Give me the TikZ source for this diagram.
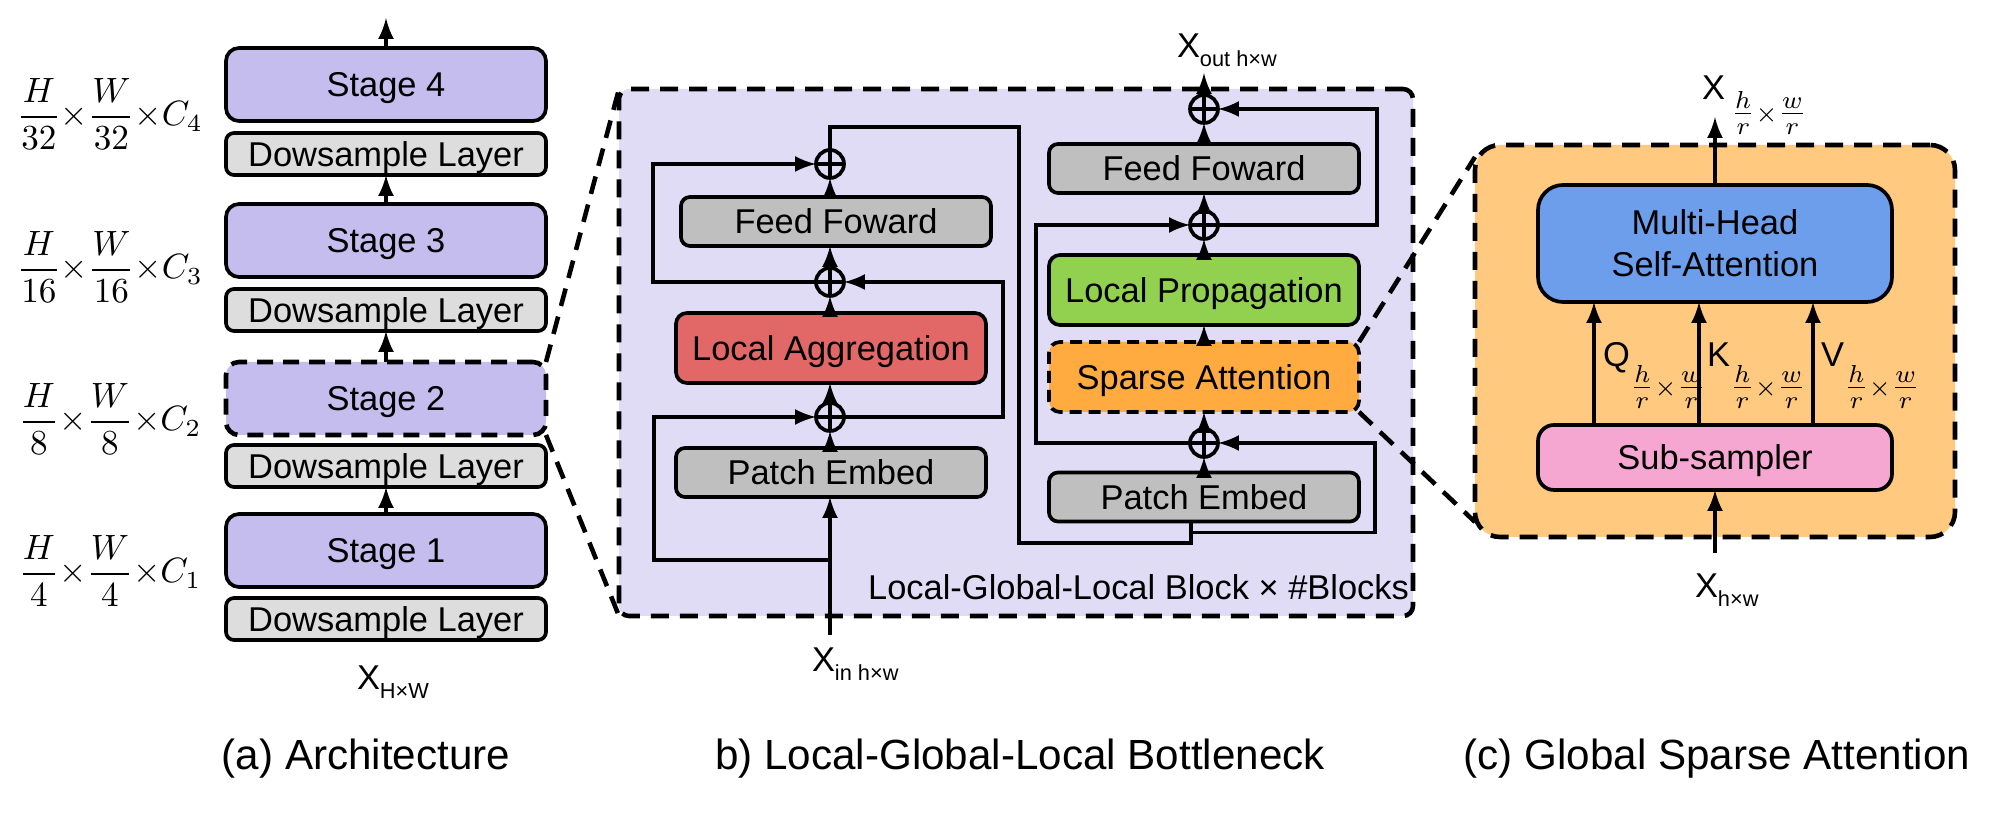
\documentclass[tikz,border=0pt]{standalone}
\usepackage{amsmath}
\usepackage{fontspec}
\setmainfont{Liberation Sans}
\usetikzlibrary{arrows,positioning,calc}

\definecolor{stageFill}{RGB}{197,189,238}
\definecolor{dsFill}{RGB}{221,221,221}
\definecolor{lglFill}{RGB}{224,220,245}
\definecolor{ffFill}{RGB}{191,191,191}
\definecolor{aggFill}{RGB}{226,104,104}
\definecolor{propFill}{RGB}{146,208,80}
\definecolor{sparseFill}{RGB}{255,171,64}
\definecolor{gsaFill}{RGB}{255,201,127}
\definecolor{mhsaFill}{RGB}{109,158,235}
\definecolor{subFill}{RGB}{245,166,209}

\newcommand{\boxfont}{\fontsize{9.8}{11.9}\selectfont}
\newcommand{\labelfont}{\fontsize{9.8}{11.8}\selectfont}
\newcommand{\capfont}{\fontsize{12}{14.4}\selectfont}
\newcommand{\lowsub}[1]{\raisebox{-0.9mm}{\fontsize{6.2}{7.4}\selectfont #1}}
\newcommand{\subfrac}{$\frac{h}{r}{\scriptstyle\times}\frac{w}{r}$}

\begin{document}
\begin{tikzpicture}[x=0.1mm, y=-0.1mm,
    every node/.style={inner sep=0pt, outer sep=0pt},
    block/.style={draw, line width=1.05pt, font=\boxfont, text height=7pt, text depth=0pt},
    stageBlock/.style={block, fill=stageFill, rounded corners=1.3mm, minimum width=32mm, minimum height=7.3mm},
    dsBlock/.style={block, fill=dsFill, rounded corners=0.8mm, minimum width=32mm, minimum height=4.2mm},
    grayBlock/.style={block, fill=ffFill, rounded corners=0.9mm, minimum width=31mm, minimum height=4.9mm},
    wideBlock/.style={block, rounded corners=1.1mm, minimum width=31mm, minimum height=7mm},
    zoomBox/.style={draw, line width=1.3pt, dash pattern=on 1.8mm off 1.1mm},
    sumNode/.style={draw, circle, line width=1.05pt, minimum size=2.8mm,
        path picture={\draw[line width=1.05pt]
            (path picture bounding box.north) -- (path picture bounding box.south)
            (path picture bounding box.west) -- (path picture bounding box.east);}},
    wire/.style={line width=1.05pt},
    arr/.style={wire, -latex},
    xLabel/.style={font=\labelfont, anchor=base west},
    capText/.style={font=\capfont, anchor=base},
    sizeText/.style={font=\fontsize{10}{12}\selectfont}
  ]
  \useasboundingbox (0,0) rectangle (2000,820);

  % (a) architecture
  \node[dsBlock] (ds1) at (386,619) {Dowsample Layer};
  \node[stageBlock, above=1.1mm of ds1] (st1) {Stage 1};
  \node[dsBlock, above=2.7mm of st1] (ds2) {Dowsample Layer};
  \node[stageBlock, above=1.0mm of ds2, line width=1.3pt, dash pattern=on 1.6mm off 1mm] (st2) {Stage 2};
  \node[dsBlock, above=3.1mm of st2] (ds3) {Dowsample Layer};
  \node[stageBlock, above=1.2mm of ds3] (st3) {Stage 3};
  \node[dsBlock, above=2.9mm of st3] (ds4) {Dowsample Layer};
  \node[stageBlock, above=1.2mm of ds4] (st4) {Stage 4};
  \coordinate (archOut) at ($(st4.north)+(0,-30)$);

  \draw[arr] (st1) -- (ds2);
  \draw[arr] (st2) -- (ds3);
  \draw[arr] (st3) -- (ds4);
  \draw[arr] (st4) -- (archOut);

  \node[sizeText] (sz1) at (110,571) {$\dfrac{H}{4}{\times}\dfrac{W}{4}{\times}C_1$};
  \node[sizeText] (sz2) at (110,419) {$\dfrac{H}{8}{\times}\dfrac{W}{8}{\times}C_2$};
  \node[sizeText] (sz3) at (110,267) {$\dfrac{H}{16}{\times}\dfrac{W}{16}{\times}C_3$};
  \node[sizeText] (sz4) at (110,114) {$\dfrac{H}{32}{\times}\dfrac{W}{32}{\times}C_4$};

  \node[xLabel] (xHW) at (357,690) {X\lowsub{H×W}};
  \node[capText] (capA) at (366,770) {(a) Architecture};

  % (b) local-global-local bottleneck
  \node[zoomBox, fill=lglFill, rounded corners=1mm, minimum width=79.4mm, minimum height=52.7mm] (lgl) at (1016,352.5) {};
  \node[grayBlock] (peL) at (831,472.5) {Patch Embed};
  \node[wideBlock, fill=aggFill] (aggL) at (831,348) {Local Aggregation};
  \node[grayBlock] (ffL) at (836,221.5) {Feed Foward};
  \node[sumNode] (pL1) at (830,417) {};
  \node[sumNode] (pL2) at (830,282) {};
  \node[sumNode] (pL3) at (830,164) {};

  \node[grayBlock] (peR) at (1204,497) {Patch Embed};
  \node[wideBlock, fill=sparseFill, dash pattern=on 1.2mm off 0.7mm] (saR) at (1204,377) {Sparse Attention};
  \node[wideBlock, fill=propFill] (lpR) at (1204,290) {Local Propagation};
  \node[grayBlock] (ffR) at (1204,168.5) {Feed Foward};
  \node[sumNode] (pR1) at (1204,443) {};
  \node[sumNode] (pR2) at (1204,225) {};
  \node[sumNode] (pR3) at (1204,109) {};

  \coordinate (xinTail) at (830,635);
  \coordinate (xinSplit) at (830,560);
  \draw[arr] (xinTail) -- (peL.south -| xinTail);
  \draw[arr] (xinSplit) -- ++(-176,0) |- (pL1);
  \draw[arr] (pL1 |- peL.north) -- (pL1);
  \draw[arr] (pL1) -- (pL1 |- aggL.south);
  \draw[arr] (pL1) -- ++(173,0) |- (pL2);
  \draw[arr] (pL2 |- aggL.north) -- (pL2);
  \draw[arr] (pL2) -- (pL2 |- ffL.south);
  \draw[arr] (pL2) -- ++(-177,0) |- (pL3);
  \draw[arr] (pL3 |- ffL.north) -- (pL3);

  \coordinate (peRin) at ($(peR.south)+(-13,0)$);
  \draw[wire] (pL3) |- ++(189,-37) -- ++(0,416) -| (peRin);
  \draw[arr] ($(peRin)+(0,11)$) -- ++(184,0) |- (pR1);
  \draw[arr] (peR) -- (pR1);
  \draw[arr] (pR1) -- (saR);
  \draw[arr] (pR1) -- ++(-168,0) |- (pR2);
  \draw[arr] (saR) -- (lpR);
  \draw[arr] (lpR) -- (pR2);
  \draw[arr] (pR2) -- (ffR);
  \draw[arr] (pR2) -- ++(173,0) |- (pR3);
  \draw[arr] (ffR) -- (pR3);
  \coordinate (xoutTip) at (1204,73);
  \draw[arr] (pR3) -- (xoutTip);

  \node[xLabel] (xin) at (812,672) {X\lowsub{in h×w}};
  \node[xLabel] (xout) at (1177,58) {X\lowsub{out h×w}};
  \node[font=\boxfont, anchor=base east] (lglNote) at (1409,600) {Local-Global-Local Block × \#Blocks};
  \node[capText] (capB) at (1020,770) {b) Local-Global-Local Bottleneck};

  % (c) global sparse attention
  \node[zoomBox, fill=gsaFill, rounded corners=2.5mm, minimum width=48mm, minimum height=39.2mm] (gsa) at (1715,341) {};
  \node[draw, line width=1.05pt, fill=mhsaFill, rounded corners=2.5mm, minimum width=35.4mm,
        minimum height=11.7mm, font=\boxfont, align=center] (mhsa) at (1715,243.5) {Multi-Head\\Self-Attention};
  \node[block, fill=subFill, rounded corners=1.6mm, minimum width=35.4mm, minimum height=6.5mm] (sub) at (1715,457.5) {Sub-sampler};

  \coordinate (qLine) at (1594,0);
  \coordinate (kLine) at (1699,0);
  \coordinate (vLine) at (1813,0);
  \draw[arr] (sub.north -| qLine) -- (mhsa.south -| qLine);
  \draw[arr] (sub.north -| kLine) -- (mhsa.south -| kLine);
  \draw[arr] (sub.north -| vLine) -- (mhsa.south -| vLine);
  \node[xLabel] (qLab) at (1603,367) {Q\raisebox{-2.9mm}{\subfrac}};
  \node[xLabel] (kLab) at (1707,367) {K\raisebox{-2.9mm}{\subfrac}};
  \node[xLabel] (vLab) at (1821,367) {V\raisebox{-2.9mm}{\subfrac}};

  \coordinate (xtopTip) at (1715,117);
  \coordinate (xbotTail) at (1715,553);
  \draw[arr] (mhsa) -- (xtopTip);
  \draw[arr] (xbotTail) -- (sub);
  \node[xLabel] (xtop) at (1702,100) {X\,\raisebox{-2.2mm}{\subfrac}};
  \node[xLabel] (xbot) at (1695,598) {X\lowsub{h×w}};
  \node[capText] (capC) at (1717,770) {(c) Global Sparse Attention};

  % zoom connectors
  \draw[zoomBox] (st2.north east) -- (lgl.north west);
  \draw[zoomBox] (st2.south east) -- (lgl.south west);
  \draw[zoomBox] (saR.north east) -- ($(gsa.north west)+(0,12)$);
  \draw[zoomBox] (saR.south east) -- ($(gsa.south west)+(0,-15)$);
\end{tikzpicture}
\end{document}
